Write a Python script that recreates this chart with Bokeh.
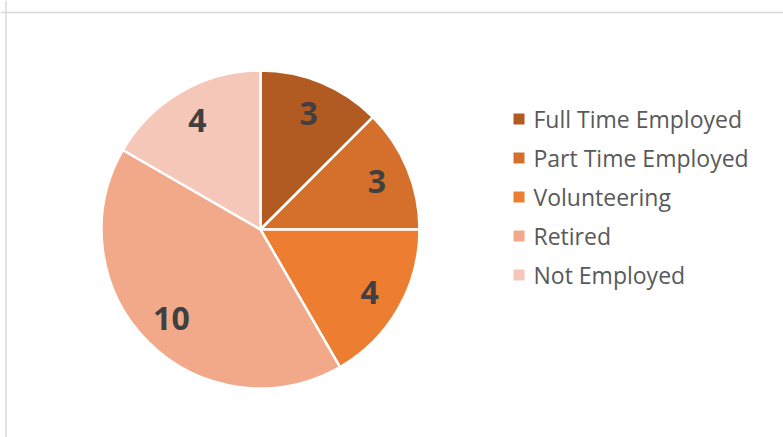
import numpy as np
from bokeh.plotting import figure
from bokeh.models import Range1d, Span, ColumnDataSource
from bokeh.core.properties import value
from bokeh.embed import file_html
from bokeh.resources import INLINE

# ---- data ----
categories = ["Full Time Employed", "Part Time Employed", "Volunteering", "Retired", "Not Employed"]
counts = [3, 3, 4, 10, 4]
colors = ["#B15B23", "#D4702C", "#ED7D31", "#F1A98A", "#F5C7B8"]

# ---- layout constants ----
W, H = 783, 437
cx, cy, R = 260, 208, 159
label_r = 126
leg_x, leg_y0, leg_step = 518.5, 318.5, 39

vals = np.array(counts, dtype=float)
frac = vals / vals.sum()
cum = np.concatenate([[0], np.cumsum(frac)])
start = np.pi / 2 - cum[:-1] * 2 * np.pi
end = np.pi / 2 - cum[1:] * 2 * np.pi
mid = (start + end) / 2

src = ColumnDataSource(dict(
    cat=categories, val=[str(c) for c in counts], color=colors,
    start=start, end=end,
    lx=cx + label_r * np.cos(mid), ly=cy + label_r * np.sin(mid),
    kx=[leg_x] * len(categories),
    ky=[leg_y0 - i * leg_step for i in range(len(categories))],
    tx=[leg_x + 14.5] * len(categories),
))

p = figure(width=W, height=H, output_backend="svg", toolbar_location=None,
           x_range=Range1d(0, W), y_range=Range1d(0, H),
           min_border=0, min_border_left=0, min_border_right=0,
           min_border_top=0, min_border_bottom=0)
p.axis.visible = False
p.grid.visible = False
p.outline_line_color = None
p.background_fill_color = "white"
p.border_fill_color = "white"

p.wedge(x=cx, y=cy, radius=R, start_angle="start", end_angle="end",
        direction="clock", fill_color="color", line_color="white",
        line_width=2.5, source=src)

p.text(x="lx", y="ly", text="val", source=src, text_align="center",
       text_baseline="middle", text_font=value("Open Sans"),
       text_font_style="bold", text_font_size="32px", text_color="#404040")

p.scatter(x="kx", y="ky", marker="square", size=11, fill_color="color",
          line_color=None, source=src)
p.text(x="tx", y="ky", text="cat", source=src, text_align="left",
       text_baseline="middle", text_font=value("Open Sans"),
       text_font_size="23px", text_color="#595959")

p.add_layout(Span(location=425, dimension="width", line_color="#D9D9D9", line_width=1.5))
p.add_layout(Span(location=5.5, dimension="height", line_color="#D9D9D9", line_width=1.5))

open("out.html", "w").write(file_html(p, INLINE))
